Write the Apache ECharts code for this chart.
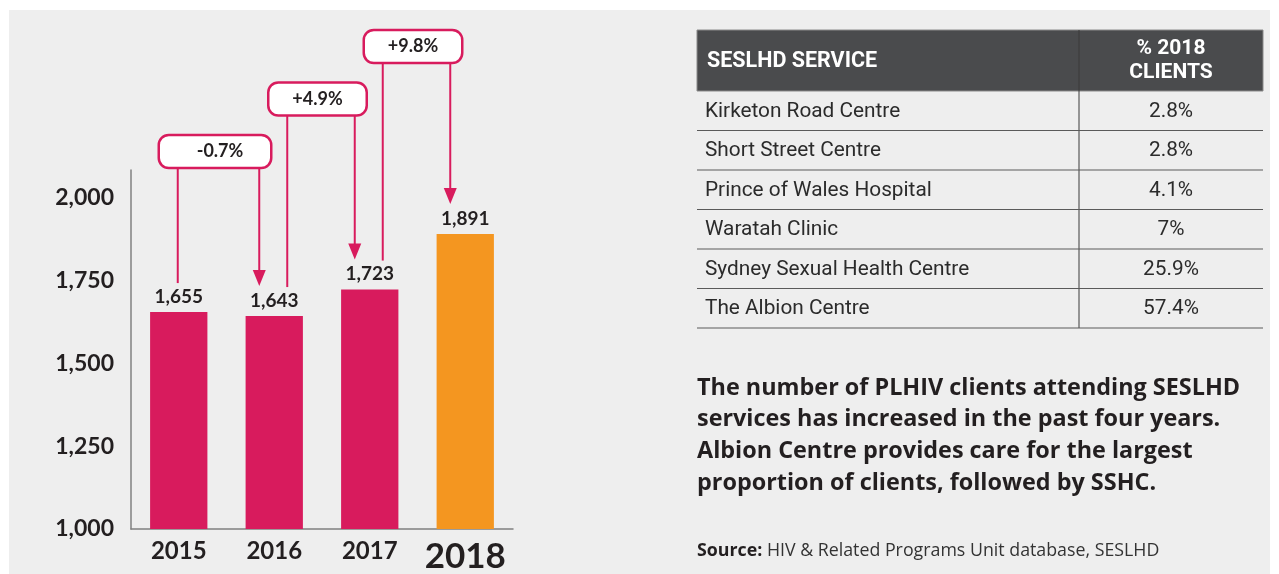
<!DOCTYPE html>
<html>
<head>
<meta charset="utf-8">
<script src="https://cdn.jsdelivr.net/npm/echarts@6/dist/echarts.min.js"></script>
<style>
  html, body { margin: 0; padding: 0; background: #ffffff; }
  #panel { position: absolute; left: 9px; top: 10px; width: 1261px; height: 564px; background: #eeeeee; }
  #chart { position: absolute; left: 0; top: 0; width: 1279px; height: 574px; }
</style>
</head>
<body>
<div id="panel"></div>
<div id="chart"></div>
<script>
// ---- data ----
const years = ['2015', '2016', '2017', '2018'];
const clients = [1655, 1643, 1723, 1891];
const changeLabels = ['-0.7%', '+4.9%', '+9.8%'];
const services = ['Kirketon Road Centre', 'Short Street Centre', 'Prince of Wales Hospital', 'Waratah Clinic', 'Sydney Sexual Health Centre', 'The Albion Centre'];
const shares = ['2.8%', '2.8%', '4.1%', '7%', '25.9%', '57.4%'];
const tableHeaders = ['SESLHD SERVICE', '% 2018\nCLIENTS'];
const summaryLines = [
  'The number of PLHIV clients attending SESLHD',
  'services has increased in the past four years.',
  'Albion Centre provides care for the largest',
  'proportion of clients, followed by SSHC.'
];
const sourceLabel = 'Source:';
const sourceText = 'HIV & Related Programs Unit database, SESLHD';

// ---- styles ----
const PINK = '#d81b5d';
const ORANGE = '#f49620';
const INK = '#231f20';
const FONT = 'Lato, "Noto Sans", sans-serif';
const PFONT = '"Open Sans", "Noto Sans", sans-serif';
const TFONT = 'Roboto, "Liberation Sans", sans-serif';

const chart = echarts.init(document.getElementById('chart'), null, { renderer: 'canvas' });

const changeData = changeLabels.map((lab, i) => ({
  name: lab,
  value: [i, i + 1, clients[i], clients[i + 1], i]
}));

function renderCallout(params, api) {
  const from = api.coord([api.value(0), api.value(2)]);
  const to = api.coord([api.value(1), api.value(3)]);
  const level = api.value(4);
  const topY = params.coordSys.y;
  const boxBottom = topY - 2 - level * 52.5;
  const boxH = 33;
  const leftX = from[0] + (level === 0 ? -1 : 13);
  const arrowX = to[0] - 15;
  const fromEnd = from[1] - 29;
  const tip = to[1] - 30;
  const bx = leftX - 19;
  const bw = (arrowX + 12) - bx;
  const label = changeLabels[params.dataIndex];
  return {
    type: 'group',
    children: [
      { type: 'line', shape: { x1: leftX, y1: boxBottom, x2: leftX, y2: fromEnd }, style: { stroke: PINK, lineWidth: 2 } },
      { type: 'line', shape: { x1: arrowX, y1: boxBottom, x2: arrowX, y2: tip - 14 }, style: { stroke: PINK, lineWidth: 2 } },
      { type: 'polygon', shape: { points: [[arrowX - 6.5, tip - 16], [arrowX + 6.5, tip - 16], [arrowX, tip]] }, style: { fill: PINK } },
      { type: 'rect', shape: { x: bx, y: boxBottom - boxH, width: bw, height: boxH, r: 10 }, style: { fill: '#ffffff', stroke: PINK, lineWidth: 2.5 } },
      { type: 'text', x: bx + bw / 2 + (level === 0 ? 5 : 0), y: boxBottom - boxH / 2, style: { text: label, fill: INK, font: 'bold 18px ' + FONT, align: 'center', verticalAlign: 'middle' } }
    ]
  };
}

// ---- table & text graphics ----
const tX0 = 697, tX1 = 1263, tDiv = 1079, tTop = 30, tHead = 91, rowH = 39.5;
const tableEls = [];
tableEls.push({ type: 'rect', shape: { x: tX0, y: tTop, width: tX1 - tX0, height: tHead - tTop }, style: { fill: '#4a4b4d', stroke: '#8a8a8a', lineWidth: 1 } });
tableEls.push({ type: 'line', shape: { x1: tDiv, y1: tTop, x2: tDiv, y2: tHead + rowH * services.length }, style: { stroke: '#3a3a3a', lineWidth: 1 } });
tableEls.push({ type: 'text', x: 707, y: (tTop + tHead) / 2 + 1, style: { text: tableHeaders[0], fill: '#ffffff', font: 'bold 21.5px ' + TFONT, verticalAlign: 'middle' } });
tableEls.push({ type: 'text', x: (tDiv + tX1) / 2, y: (tTop + tHead) / 2, style: { text: tableHeaders[1], fill: '#ffffff', font: 'bold 21px ' + TFONT, align: 'center', verticalAlign: 'middle', lineHeight: 24 } });
services.forEach((s, i) => {
  const yTop = tHead + i * rowH;
  const yc = yTop + rowH / 2;
  tableEls.push({ type: 'line', shape: { x1: tX0, y1: yTop + rowH, x2: tX1, y2: yTop + rowH }, style: { stroke: '#5a5a5a', lineWidth: 1 } });
  tableEls.push({ type: 'text', x: 705, y: yc + 1, style: { text: s, fill: '#2b2b2b', font: '20.8px ' + TFONT, verticalAlign: 'middle' } });
  tableEls.push({ type: 'text', x: (tDiv + tX1) / 2, y: yc + 1, style: { text: shares[i], fill: '#2b2b2b', font: '20.8px ' + TFONT, align: 'center', verticalAlign: 'middle' } });
});
summaryLines.forEach((ln, i) => {
  tableEls.push({ type: 'text', x: 697, y: 388 + i * 31.8, style: { text: ln, fill: INK, font: 'bold 23.4px ' + PFONT, verticalAlign: 'middle' } });
});
tableEls.push({ type: 'text', x: 697, y: 551, style: {
  text: '{b|' + sourceLabel + '} ' + sourceText,
  fill: '#333333', font: '17.8px ' + PFONT, verticalAlign: 'middle',
  rich: { b: { fontWeight: 'bold', fontSize: 17.8, fontFamily: PFONT, fill: INK, color: INK } }
} });

const option = {
  animation: false,
  backgroundColor: 'transparent',
  grid: { left: 131, top: 170, width: 382, height: 362, containLabel: false },
  xAxis: {
    type: 'category',
    data: years,
    axisLine: { lineStyle: { color: '#808080', width: 1.5 } },
    axisTick: { show: false },
    axisLabel: {
      margin: 10,
      formatter: (v, i) => (i === years.length - 1 ? '{big|' + v + '}' : '{n|' + v + '}'),
      rich: {
        n: { fontFamily: FONT, fontWeight: 'bold', fontSize: 24, color: INK, lineHeight: 30, verticalAlign: 'top' },
        big: { fontFamily: FONT, fontWeight: 'bold', fontSize: 35, color: INK, lineHeight: 30, verticalAlign: 'top' }
      }
    }
  },
  yAxis: {
    type: 'value',
    min: 1000,
    max: 2084,
    interval: 250,
    axisLine: { show: true, lineStyle: { color: '#808080', width: 1.5 } },
    axisTick: { show: false },
    splitLine: { show: false },
    axisLabel: {
      showMaxLabel: false,
      margin: 17,
      fontFamily: FONT, fontWeight: 'bold', fontSize: 23, color: INK,
      formatter: v => (v % 250 === 0 ? v.toLocaleString('en-US') : '')
    }
  },
  series: [
    {
      type: 'bar',
      data: clients,
      barWidth: '60%',
      itemStyle: { color: p => (p.dataIndex === clients.length - 1 ? ORANGE : PINK) },
      label: {
        show: true, position: 'top', distance: 6,
        fontFamily: FONT, fontWeight: 'bold', fontSize: 19, color: INK,
        formatter: p => p.value.toLocaleString('en-US')
      }
    },
    {
      type: 'custom',
      coordinateSystem: 'cartesian2d',
      clip: false,
      data: changeData,
      renderItem: renderCallout,
      z: 5
    }
  ],
  graphic: tableEls
};

chart.setOption(option);
</script>
</body>
</html>
